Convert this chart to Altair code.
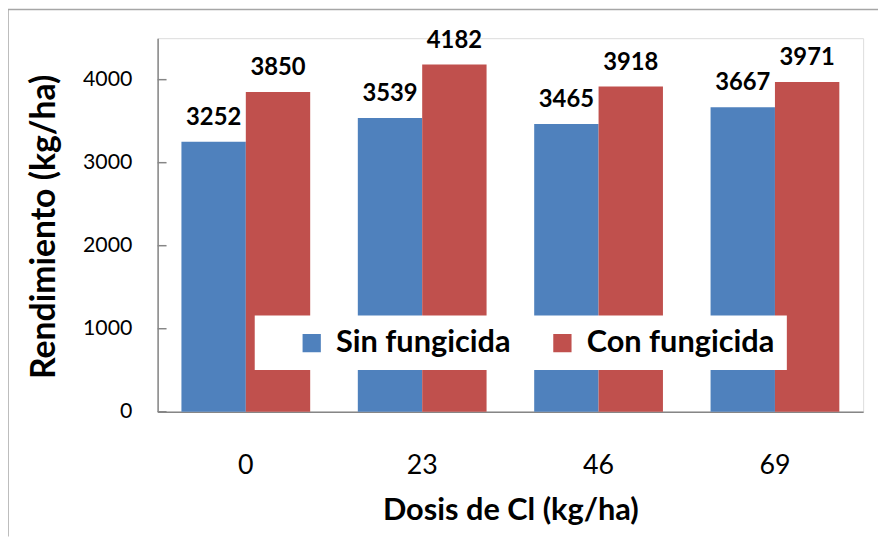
import altair as alt
import pandas as pd

doses = ["0", "23", "46", "69"]
series = ["Sin fungicida", "Con fungicida"]
sin_vals = [3252, 3539, 3465, 3667]
con_vals = [3850, 4182, 3918, 3971]
y_ticks = [0, 1000, 2000, 3000, 4000]
colors = ["#4F81BD", "#C0504D"]

rows = []
for d, s, c in zip(doses, sin_vals, con_vals):
    rows.append({"Dosis": d, "Serie": series[0], "Valor": s})
    rows.append({"Dosis": d, "Serie": series[1], "Valor": c})
df = pd.DataFrame(rows)
ticks_df = pd.DataFrame({"t": y_ticks})
one = pd.DataFrame({"a": [0]})

FONT = "Lato"
W, H = 712, 377

x_enc = alt.X("Dosis:N", sort=doses,
              scale=alt.Scale(paddingInner=0.27, paddingOuter=0.135),
              axis=alt.Axis(title="Dosis de Cl (kg/ha)", labelAngle=0, ticks=False,
                            labelFontSize=27, labelPadding=41, labelColor="#000",
                            titleFontSize=31, titleFontWeight="bold", titleColor="#000",
                            titleY=109, titleBaseline="alphabetic",
                            domainColor="#868686", domainWidth=1.5))
y_enc = alt.Y("Valor:Q", scale=alt.Scale(domain=[0, 4500], nice=False),
              axis=alt.Axis(title="Rendimiento (kg/ha)", values=y_ticks, ticks=False,
                            format="d",
                            grid=False, labelFontSize=21.5, labelPadding=26, labelColor="#000",
                            titleFontSize=34, titleFontWeight="bold", titleColor="#000",
                            titleX=-114, titleY=190, titleBaseline="middle",
                            domainColor="#868686", domainWidth=1.5))

color_enc = alt.Color("Serie:N", sort=series,
                      scale=alt.Scale(domain=series, range=colors),
                      legend=alt.Legend(title=None, orient="none", legendX=98, legendY=280,
                                        direction="horizontal", fillColor="white",
                                        padding=12, symbolType="square", symbolSize=340,
                                        symbolStrokeWidth=0, symbolOffset=30,
                                        labelFontSize=31, labelFontWeight="bold",
                                        labelColor="#000", labelOffset=9,
                                        columnPadding=6, labelLimit=400))

bars = alt.Chart(df).mark_bar().encode(
    x=x_enc, y=y_enc,
    xOffset=alt.XOffset("Serie:N", sort=series, scale=alt.Scale(paddingInner=0, paddingOuter=0)),
    color=color_enc,
)

labels = alt.Chart(df).mark_text(fontSize=24, fontWeight="bold", baseline="bottom", dy=-12,
                                 color="#000", font=FONT).encode(
    x=alt.X("Dosis:N", sort=doses),
    xOffset=alt.XOffset("Serie:N", sort=series),
    y="Valor:Q",
    text="Valor:Q",
)

yticks = alt.Chart(ticks_df).mark_rule(color="#868686", strokeWidth=1.5).encode(
    y="t:Q", x=alt.value(0), x2=alt.value(9)
)

border_left = alt.Chart(one).mark_rule(color="#A6A6A6", strokeWidth=1.5).encode(
    x=alt.value(-151), y=alt.value(-29), y2=alt.value(503)
)
border_top = alt.Chart(one).mark_rule(color="#A6A6A6", strokeWidth=1.5).encode(
    x=alt.value(-151), x2=alt.value(730), y=alt.value(-29)
)

chart = alt.layer(bars, labels, yticks, border_left, border_top).properties(
    width=W, height=H,
    autosize=alt.AutoSizeParams(type="none"),
    padding={"left": 151, "top": 28, "right": 15, "bottom": 126},
).configure_view(stroke=None).configure(font=FONT)

chart.save("out.html", embed_options={"renderer": "svg", "actions": False})
